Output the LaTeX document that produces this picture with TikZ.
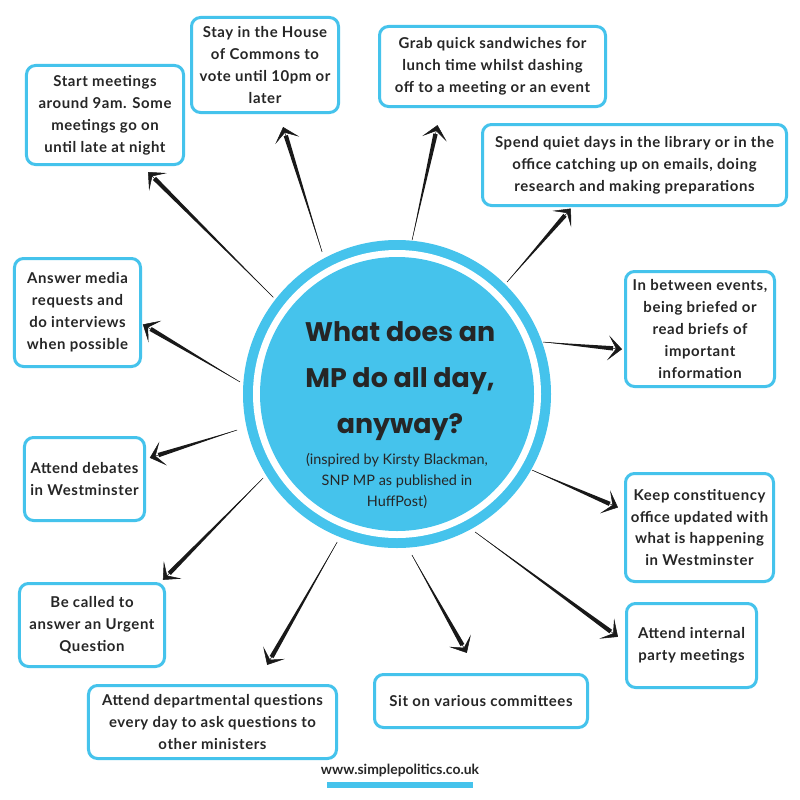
\documentclass[tikz,border=0pt]{standalone}
\usepackage{fontspec}
\setmainfont{Lato}
\newfontfamily\headfont{Poppins}
\newfontfamily\boxfont{Lato}[LetterSpace=4]
\usetikzlibrary{arrows.meta}
\usetikzlibrary{calc}
\definecolor{mpblue}{HTML}{45C3EC}
\colorlet{inkcol}{black!90}
\colorlet{textcol}{black!85}
\tikzstyle{task}=[draw=mpblue,line width=3bp,rounded corners=9bp,fill=white,align=center,text=textcol,font=\boxfont\bfseries\fontsize{15}{22}\selectfont,inner sep=0pt]
\tikzstyle{spoke}=[inkcol,line width=0.5bp,-{Stealth[length=14bp,width=25bp,inset=8bp]}]
\tikzset{taper/.style={to path={let \p1=(\tikztostart),\p2=($(\tikztotarget)!#1!(\tikztostart)$),\n1={atan2(\y2-\y1,\x2-\x1)} in
  (\p1) -- ($(\p2)+(\n1+90:2.2bp)$) -- ($(\p2)+(\n1-90:2.2bp)$) -- cycle}}}

\begin{document}
\begin{tikzpicture}[x=1bp,y=-1bp]
  \fill[white] (0,0) rectangle (800,800);
  \useasboundingbox (0,0) rectangle (800,800);
  \coordinate (mp) at (397,394);

  % the twelve tasks round the disc
  \node[task,minimum width=157bp,minimum height=99bp] (start) at (105,115) {Start meetings\\around 9am. Some\\meetings go on\\until late at night};
  \node[task,minimum width=147bp,minimum height=95bp] (stay) at (265,65) {Stay in the House\\of Commons to\\vote until 10pm or\\later};
  \node[task,minimum width=226bp,minimum height=80bp] (grab) at (492.5,66.5) {Grab quick sandwiches for\\lunch time whilst dashing\\off to a meeting or an event};
  \node[task,minimum width=304bp,minimum height=81bp] (spend) at (634.5,165) {Spend quiet days in the library or in the\\office catching up on emails, doing\\research and making preparations};
  \node[task,minimum width=149bp,minimum height=115bp] (brief) at (700,329) {In between events,\\being briefed or\\read briefs of\\important\\information};
  \node[task,minimum width=148bp,minimum height=108bp] (keep) at (699.5,527.5) {Keep constituency\\office updated with\\what is happening\\in Westminster};
  \node[task,minimum width=130bp,minimum height=84bp] (party) at (691.5,645.5) {Attend internal\\party meetings};
  \node[task,minimum width=213bp,minimum height=53bp] (cttee) at (481,701) {Sit on various committees};
  \node[task,minimum width=248bp,minimum height=73bp] (dept) at (212.5,722) {Attend departmental questions\\every day to ask questions to\\other ministers};
  \node[task,minimum width=145bp,minimum height=83bp] (urgent) at (92,625) {Be called to\\answer an Urgent\\Question};
  \node[task,minimum width=120bp,minimum height=83bp] (debate) at (84.5,479) {Attend debates\\in Westminster};
  \node[task,minimum width=126bp,minimum height=108bp] (media) at (77.5,312.5) {Answer media\\requests and\\do interviews\\when possible};

  % tails of the spokes, just outside the disc
  \foreach \n/\a/\r in {1/142/157,2/117.8/160.6,3/84.4/154.7,4/45.5/157,5/19.6/155,6/-29.4/155,
                        7/-60.5/158.5,8/-84.7/161.7,9/-112/159.7,10/-147.9/158,11/-167.3/164,12/175.6/157.5}
    \coordinate (t\n) at ($(mp)+(\a:\r bp)$);

  % spokes: thin at the disc, thick at the head
  \foreach \t/\b/\g/\e in {t1/start.-54/8.5/17.5,t2/stay.-74/13.6/22.6,t3/grab.-141/17.5/26.5,
                           t4/spend.-146.5/2/11,t5/brief.-165/2/11,t6/keep.167.5/6.6/15.6,
                           t7/party.177/8.7/17.7,t8/cttee.96/23/32,t9/dept.41/22/31,
                           t10/urgent.32/3/12,t11/debate.18/4/13,t12/media.-10.5/1/10} {
    \fill[inkcol] (\t) to[taper=\e bp] (\b);
    \draw[spoke,shorten >=\g bp] (\t) -- (\b);
  }

  % central disc with its white ring
  \fill[mpblue] (mp) circle (154bp);
  \fill[white] (mp) circle (144bp);
  \fill[mpblue] (mp) circle (137bp);
  \node[text=textcol,font=\headfont\bfseries\fontsize{27}{46}\selectfont,align=center] (title) at (400,381) {What does an\\MP do all day,\\anyway?};
  \node[text=textcol,font=\fontsize{14.5}{21.5}\selectfont,align=center] (credit) at (397,481) {(inspired by Kirsty Blackman,\\SNP MP as published in\\HuffPost)};

  % footer
  \node[text=textcol,font=\bfseries\fontsize{14}{16}\selectfont] (url) at (400,770) {www.simplepolitics.co.uk};
  \fill[mpblue] (327,782) rectangle (473,788);
\end{tikzpicture}
\end{document}
